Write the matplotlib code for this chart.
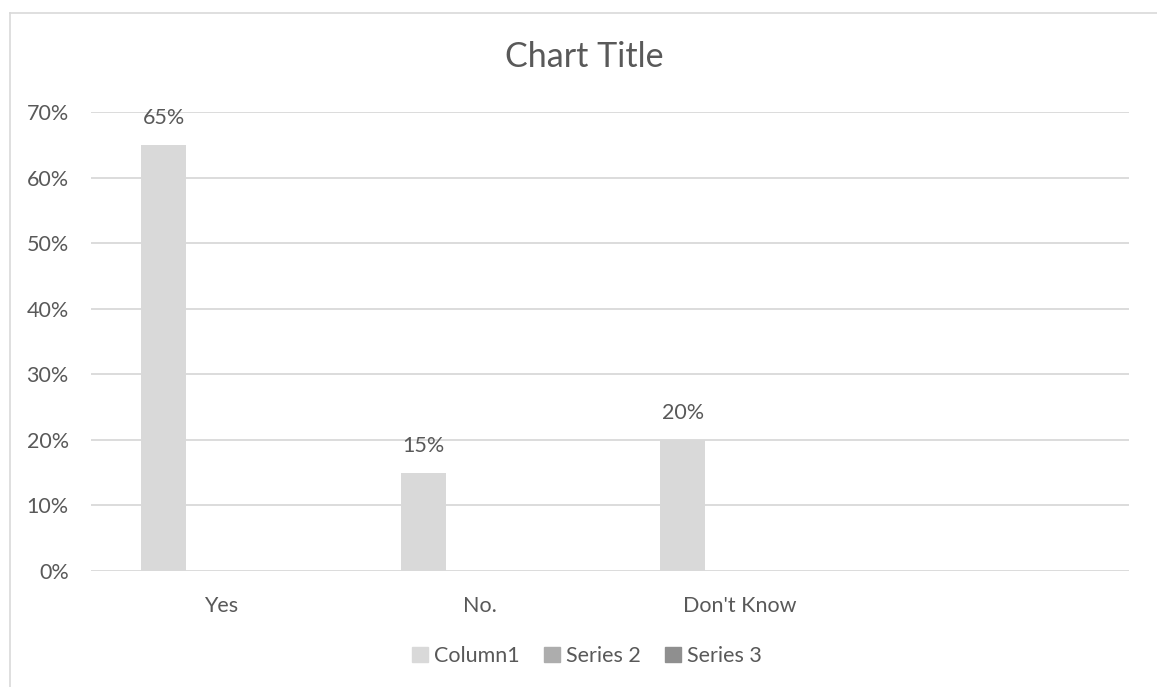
import numpy as np
import matplotlib.pyplot as plt
from matplotlib.lines import Line2D

# Dados
categorias = ["Yes", "No.", "Don't Know", ""]
column1 = [0.65, 0.15, 0.20, np.nan]
series2 = [np.nan, np.nan, np.nan, np.nan]
series3 = [np.nan, np.nan, np.nan, np.nan]
nomes_series = ["Column1", "Series 2", "Series 3"]
rotulos_y = ["0%", "10%", "20%", "30%", "40%", "50%", "60%", "70%"]

cores = ["#D9D9D9", "#ADADAD", "#8F8F8F"]
cor_texto = "#595959"
cor_grade = "#D9D9D9"

plt.rcParams['font.family'] = ['Lato', 'DejaVu Sans']

fig = plt.figure(figsize=(11.57, 6.87), dpi=100)
ax = fig.add_axes([91/1157, 1 - 571/687, (1129 - 91)/1157, (571 - 112)/687])

x = np.arange(len(categorias))
largura = 0.173
deslocamento = 0.22

for i, (serie, cor) in enumerate(zip([column1, series2, series3], cores)):
    ax.bar(x + (i - 1) * deslocamento, serie, width=largura, color=cor,
           label=nomes_series[i], zorder=3)

# Rótulos de dados da primeira série
for xi, v in zip(x, column1):
    if not np.isnan(v):
        ax.annotate(f'{v:.0%}', (xi - deslocamento, v), xytext=(0, 12),
                    textcoords='offset points', ha='center', va='bottom',
                    fontsize=15.5, color=cor_texto)

# Eixos
ax.set_xlim(-0.5, len(categorias) - 0.5)
ax.set_ylim(0, 0.7)
ax.set_yticks(np.arange(0, 0.71, 0.1))
ax.set_yticklabels(rotulos_y)
ax.set_xticks(x)
ax.set_xticklabels(categorias)
ax.tick_params(axis='both', length=0, labelsize=15.5, labelcolor=cor_texto)
ax.tick_params(axis='y', pad=16)
ax.tick_params(axis='x', pad=18)
ax.grid(axis='y', color=cor_grade, linewidth=1.3, zorder=0)
for lado in ax.spines.values():
    lado.set_visible(False)

# Título
fig.text(584/1157, 1 - 57/687, "Chart Title", ha='center', va='center',
         fontsize=24.5, color=cor_texto)

# Legenda
handles = [plt.Rectangle((0, 0), 1, 1, color=c) for c in cores]
fig.legend(handles, nomes_series, loc='center', bbox_to_anchor=(587/1157, 1 - 656/687),
           ncol=3, frameon=False, fontsize=15.5, labelcolor=cor_texto,
           handlelength=0.75, handleheight=0.75, handletextpad=0.3, columnspacing=1.1)

# Borda da área do gráfico
fig.add_artist(Line2D([10/1157, 1], [1 - 13/687, 1 - 13/687], color=cor_grade, linewidth=1.2))
fig.add_artist(Line2D([10/1157, 10/1157], [1 - 13/687, 0], color=cor_grade, linewidth=1.2))

plt.savefig("out.png", dpi=100)
